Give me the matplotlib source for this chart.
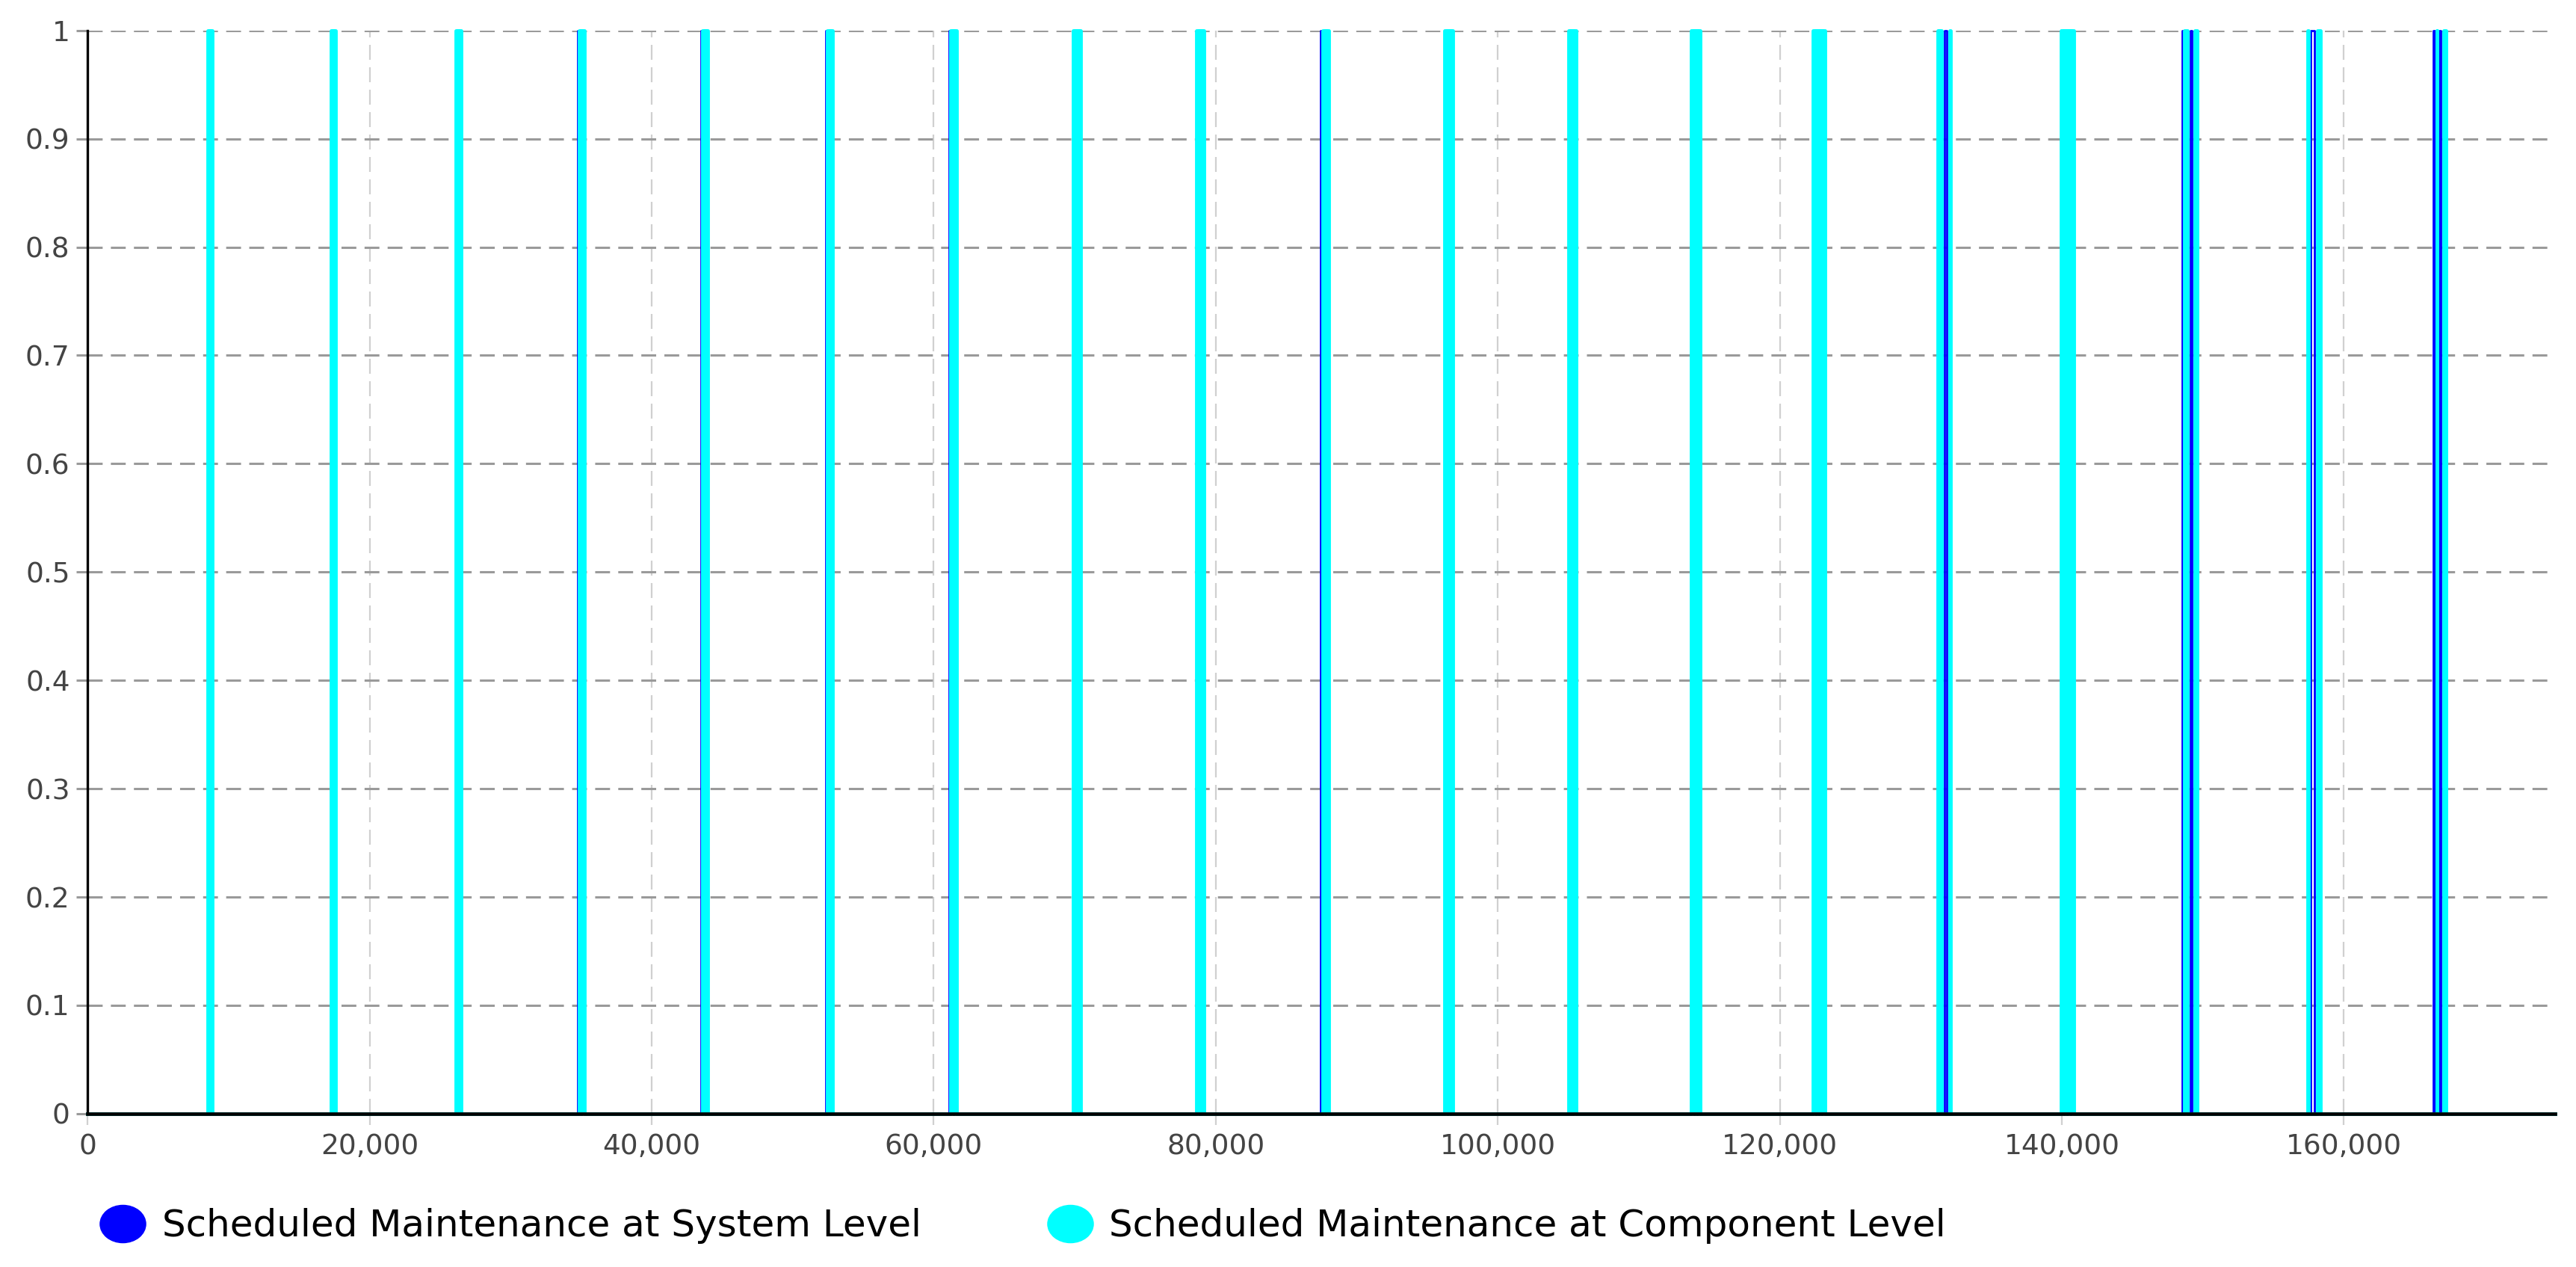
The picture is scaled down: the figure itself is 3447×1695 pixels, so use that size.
import matplotlib
matplotlib.use("Agg")
import matplotlib.pyplot as plt
from matplotlib.lines import Line2D
from matplotlib.path import Path
from matplotlib.transforms import Affine2D
from matplotlib.ticker import FuncFormatter, MultipleLocator

plt.rcParams['font.family'] = ['DejaVu Sans']

# --- data: maintenance pulses (start, end) in hours, value 1 inside the interval ---
# system level
sys_start = [8640, 17400, 26260, 34740, 43475, 52345, 61075, 70120, 78870, 87445,
             96490, 105240, 113990, 122740, 131657, 140350, 148540, 149105,
             157650, 166355, 166781]
sys_end = [8720, 17470, 26340, 34800, 43535, 52405, 61135, 70200, 78950, 87505,
           96570, 105320, 114070, 122820, 131834, 140430, 148590, 149225,
           157925, 166460, 166892]

# component level
comp_start = [8544, 8680, 17267, 17430, 26124, 26300, 34864, 35040, 43601, 43790,
              52471, 52660, 61200, 61410, 69899, 70073, 70247, 78649, 78823, 78997,
              87570, 87780, 96234, 96431, 96628, 105019, 105193, 105367,
              113708, 113923, 114138, 122351, 122566, 122781, 122995,
              131185, 131318, 132039, 139935, 140163, 140390, 140618,
              148710, 149430, 157430, 158130, 166618, 167097]
comp_end = [8680, 8816, 17430, 17593, 26300, 26476, 35040, 35216, 43790, 43979,
            52660, 52849, 61410, 61620, 70073, 70247, 70421, 78823, 78997, 79171,
            87780, 87990, 96431, 96628, 96826, 105193, 105367, 105541,
            113923, 114138, 114352, 122566, 122781, 122995, 123209,
            131318, 131452, 132095, 140163, 140390, 140618, 140845,
            148900, 149570, 157480, 158320, 166622, 167241]

x_max = 175000
labels = ['Scheduled Maintenance at System Level',
          'Scheduled Maintenance at Component Level']
colors = ['#0000FF', '#00FFFF']


def pulse_series(starts, ends):
    xs, ys = [0], [0]
    for s, e in zip(starts, ends):
        xs += [s, s, e, e]
        ys += [0, 1, 1, 0]
    xs.append(x_max)
    ys.append(0)
    return xs, ys


fig = plt.figure(figsize=(34.47, 16.95), dpi=100)
ax = fig.add_axes([0.034, 0.121, 0.958, 0.855])

sx, sy = pulse_series(sys_start, sys_end)
cx, cy = pulse_series(comp_start, comp_end)
ax.plot(sx, sy, color=colors[0], lw=2.0, zorder=3, clip_on=False)
ax.plot(cx, cy, color=colors[1], lw=3.5, zorder=4, clip_on=False)

ax.set_xlim(0, x_max)
ax.set_ylim(0, 1)
ax.xaxis.set_major_locator(MultipleLocator(20000))
ax.yaxis.set_major_locator(MultipleLocator(0.1))
ax.xaxis.set_major_formatter(FuncFormatter(lambda v, p: f'{v:,.0f}'))
ax.yaxis.set_major_formatter(FuncFormatter(lambda v, p: f'{v:g}'))

# grid
ax.grid(axis='y', color='#9a9a9a', lw=2.2, linestyle=(0, (6.5, 3.6)), zorder=1)
ax.grid(axis='x', color='#d0d0d0', lw=1.6, linestyle=(0, (9, 4.5)), zorder=1)

for side in ['top', 'right']:
    ax.spines[side].set_visible(False)
ax.spines['left'].set_linewidth(2.4)
ax.spines['bottom'].set_linewidth(3.4)
ax.spines['left'].set_zorder(5)
ax.spines['bottom'].set_zorder(5)

ax.tick_params(axis='y', length=11, width=2.2, color='#9a9a9a', pad=6,
               labelsize=27, labelcolor='#444444')
ax.tick_params(axis='x', length=11, width=1.6, color='#d0d0d0', pad=8,
               labelsize=27, labelcolor='#444444')

# legend (markers are slightly wide ellipses)
ellipse = Path(Affine2D().scale(1.22, 1.0).transform(Path.unit_circle().vertices),
               Path.unit_circle().codes)
legend_x = [0.0392, 0.407]
for c, lab, lx in zip(colors, labels, legend_x):
    h = Line2D([], [], marker=ellipse, linestyle='none', markersize=44,
               markerfacecolor=c, markeredgecolor=c)
    fig.legend([h], [lab], loc='center left', bbox_to_anchor=(lx, 0.0324),
               frameon=False, fontsize=36, handletextpad=0.48,
               handlelength=1.15, borderpad=0, borderaxespad=0)

fig.savefig('out.png', dpi=100, facecolor='white')
